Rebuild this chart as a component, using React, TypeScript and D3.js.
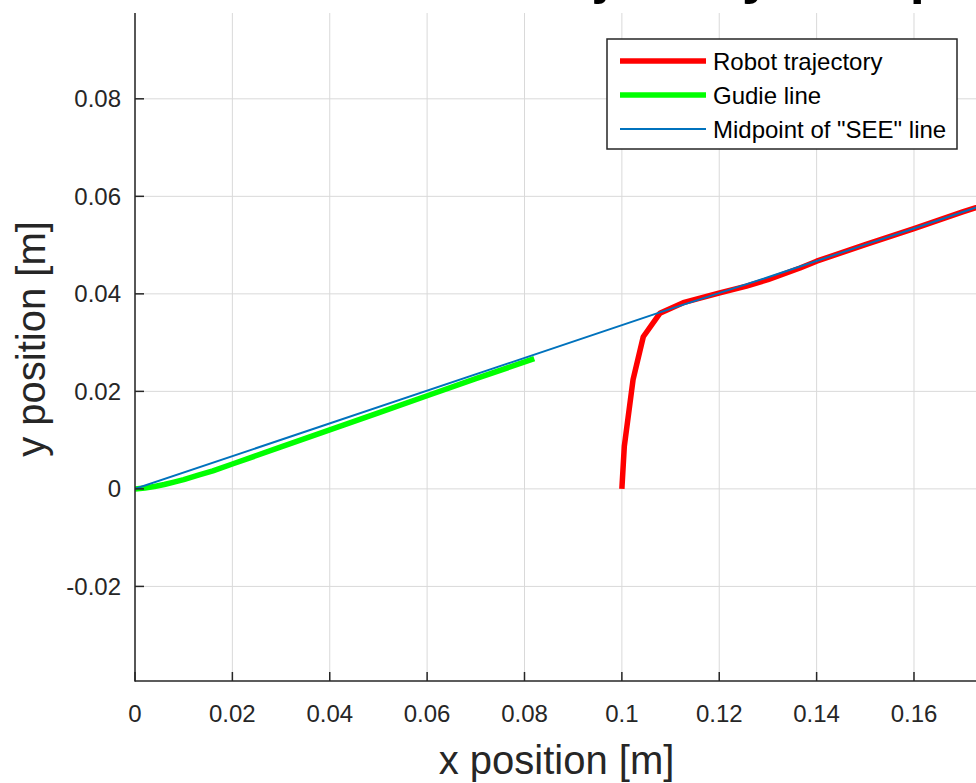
import React, { useLayoutEffect, useRef, useState } from "react";
import * as d3 from "d3";

// ---- data ----
const robotX = [0.1, 0.1005, 0.1023, 0.1044, 0.1078, 0.1126, 0.1201, 0.1256, 0.13, 0.1366, 0.14, 0.15, 0.16, 0.17, 0.18];
const robotY = [0, 0.0087, 0.0224, 0.0312, 0.036, 0.0382, 0.0402, 0.0416, 0.0429, 0.0453, 0.0467, 0.0501, 0.0534, 0.0568, 0.0601];

const guideX = [0, 0.002, 0.004, 0.006, 0.008, 0.01, 0.013, 0.016, 0.02, 0.03, 0.04, 0.05, 0.06, 0.07, 0.082];
const guideY = [0, 0.0002, 0.0005, 0.0009, 0.0014, 0.0019, 0.0028, 0.0037, 0.0051, 0.0086, 0.0121, 0.0156, 0.0191, 0.0226, 0.0267];

const midX = [0, 0.1078, 0.1133, 0.1201, 0.13, 0.1366, 0.15, 0.16, 0.17, 0.18];
const midY = [0, 0.0362, 0.038, 0.0402, 0.0434, 0.0456, 0.0501, 0.0534, 0.0568, 0.0601];

const xTicks = [0, 0.02, 0.04, 0.06, 0.08, 0.1, 0.12, 0.14, 0.16];
const yTicks = [-0.02, 0, 0.02, 0.04, 0.06, 0.08];

const legendLabels = ["Robot trajectory", "Gudie line", 'Midpoint of "SEE" line'];
const seriesColors = ["#ff0000", "#00ff00", "#0072bd"];
const seriesWidths = [5.5, 5.5, 2];

const titleText = "Robot trajectory with proposed method";
const xLabel = "x position [m]";
const yLabel = "y position [m]";

const W = 976;
const H = 783;
const left = 135;
const right = 978.5;
const top = 13;
const bottom = 681;

const FONT = "'Liberation Sans', Arial, Helvetica, sans-serif";
const AX = "#262626";

function fmt(v: number): string {
  if (Math.abs(v) < 1e-12) return "0";
  return String(+v.toFixed(4));
}

export default function App() {
  const x = d3.scaleLinear().domain([0, 0.17325]).range([left, right]);
  const y = d3.scaleLinear().domain([-0.0394, 0.0976]).range([bottom, top]);

  const titleRef = useRef<SVGTextElement>(null);
  const [titleLayout, setTitleLayout] = useState({ x: 390, size: 46, done: false });

  useLayoutEffect(() => {
    if (titleLayout.done) return;
    const el = titleRef.current;
    if (!el) return;
    try {
      const jIdx = titleText.indexOf("j");
      const yIdx = titleText.indexOf("y", jIdx);
      const pj = el.getStartPositionOfChar(jIdx).x;
      const py = el.getStartPositionOfChar(yIdx).x;
      const scale = (742 - 595) / (py - pj);
      const nx = 595 - (pj - titleLayout.x) * scale;
      setTitleLayout({ x: nx, size: titleLayout.size * scale, done: true });
    } catch (e) {
      setTitleLayout({ ...titleLayout, done: true });
    }
  }, [titleLayout]);

  const line = d3
    .line<[number, number]>()
    .x((d) => x(d[0]))
    .y((d) => y(d[1]));

  const series = [
    d3.zip(robotX, robotY) as [number, number][],
    d3.zip(guideX, guideY) as [number, number][],
    d3.zip(midX, midY) as [number, number][],
  ];

  const legX = 607;
  const legY = 39;
  const legW = 350;
  const legH = 110;
  const rowY = [61, 95, 129];

  return (
    <svg
      width={W}
      height={H}
      style={{ position: "absolute", left: 0, top: 0, background: "#fff" }}
      fontFamily={FONT}
    >
      <defs>
        <clipPath id="plotclip">
          <rect x={left} y={top} width={right - left} height={bottom - top} />
        </clipPath>
      </defs>
      <rect x={0} y={0} width={W} height={H} fill="#fff" />

      {/* title (mostly above the visible area, as in the reference) */}
      <text
        ref={titleRef}
        x={titleLayout.x}
        y={4 - 0.21 * titleLayout.size}
        fontSize={titleLayout.size}
        fontWeight="bold"
        fill="#000"
      >
        {titleText}
      </text>

      {/* grid */}
      <g stroke="#d9d9d9" strokeWidth={1}>
        {xTicks.map((t) => (
          <line key={"gx" + t} x1={x(t)} x2={x(t)} y1={top} y2={bottom} />
        ))}
        {yTicks.map((t) => (
          <line key={"gy" + t} x1={left} x2={right} y1={y(t)} y2={y(t)} />
        ))}
      </g>

      {/* data lines */}
      <g clipPath="url(#plotclip)" fill="none" strokeLinejoin="round">
        {series.map((s, i) => (
          <path key={i} d={line(s) || ""} stroke={seriesColors[i]} strokeWidth={seriesWidths[i]} />
        ))}
      </g>

      {/* axes */}
      <g stroke={AX} strokeWidth={1.5}>
        <line x1={left} x2={left} y1={top} y2={bottom + 0.75} />
        <line x1={left} x2={right} y1={bottom} y2={bottom} />
        {xTicks.map((t) => (
          <line key={"tx" + t} x1={x(t)} x2={x(t)} y1={bottom} y2={bottom - 9} />
        ))}
        {yTicks.map((t) => (
          <line key={"ty" + t} x1={left} x2={left + 9} y1={y(t)} y2={y(t)} />
        ))}
      </g>

      {/* tick labels */}
      <g fontSize={24} fill={AX}>
        {xTicks.map((t) => (
          <text key={"lx" + t} x={x(t)} y={722} textAnchor="middle">
            {fmt(t)}
          </text>
        ))}
        {yTicks.map((t) => (
          <text key={"ly" + t} x={left - 14} y={y(t) + 8.5} textAnchor="end">
            {fmt(t)}
          </text>
        ))}
      </g>

      {/* axis labels */}
      <text x={556.5} y={774} fontSize={40} fill={AX} textAnchor="middle">
        {xLabel}
      </text>
      <text
        transform={`translate(45,339) rotate(-90)`}
        fontSize={40}
        fill={AX}
        textAnchor="middle"
      >
        {yLabel}
      </text>

      {/* legend */}
      <rect x={legX} y={legY} width={legW} height={legH} fill="#fff" stroke={AX} strokeWidth={1.5} />
      {legendLabels.map((lab, i) => (
        <g key={lab}>
          <line
            x1={620}
            x2={706}
            y1={rowY[i]}
            y2={rowY[i]}
            stroke={seriesColors[i]}
            strokeWidth={seriesWidths[i]}
          />
          <text x={713} y={rowY[i] + 8.5} fontSize={24} fill="#000">
            {lab}
          </text>
        </g>
      ))}
    </svg>
  );
}
